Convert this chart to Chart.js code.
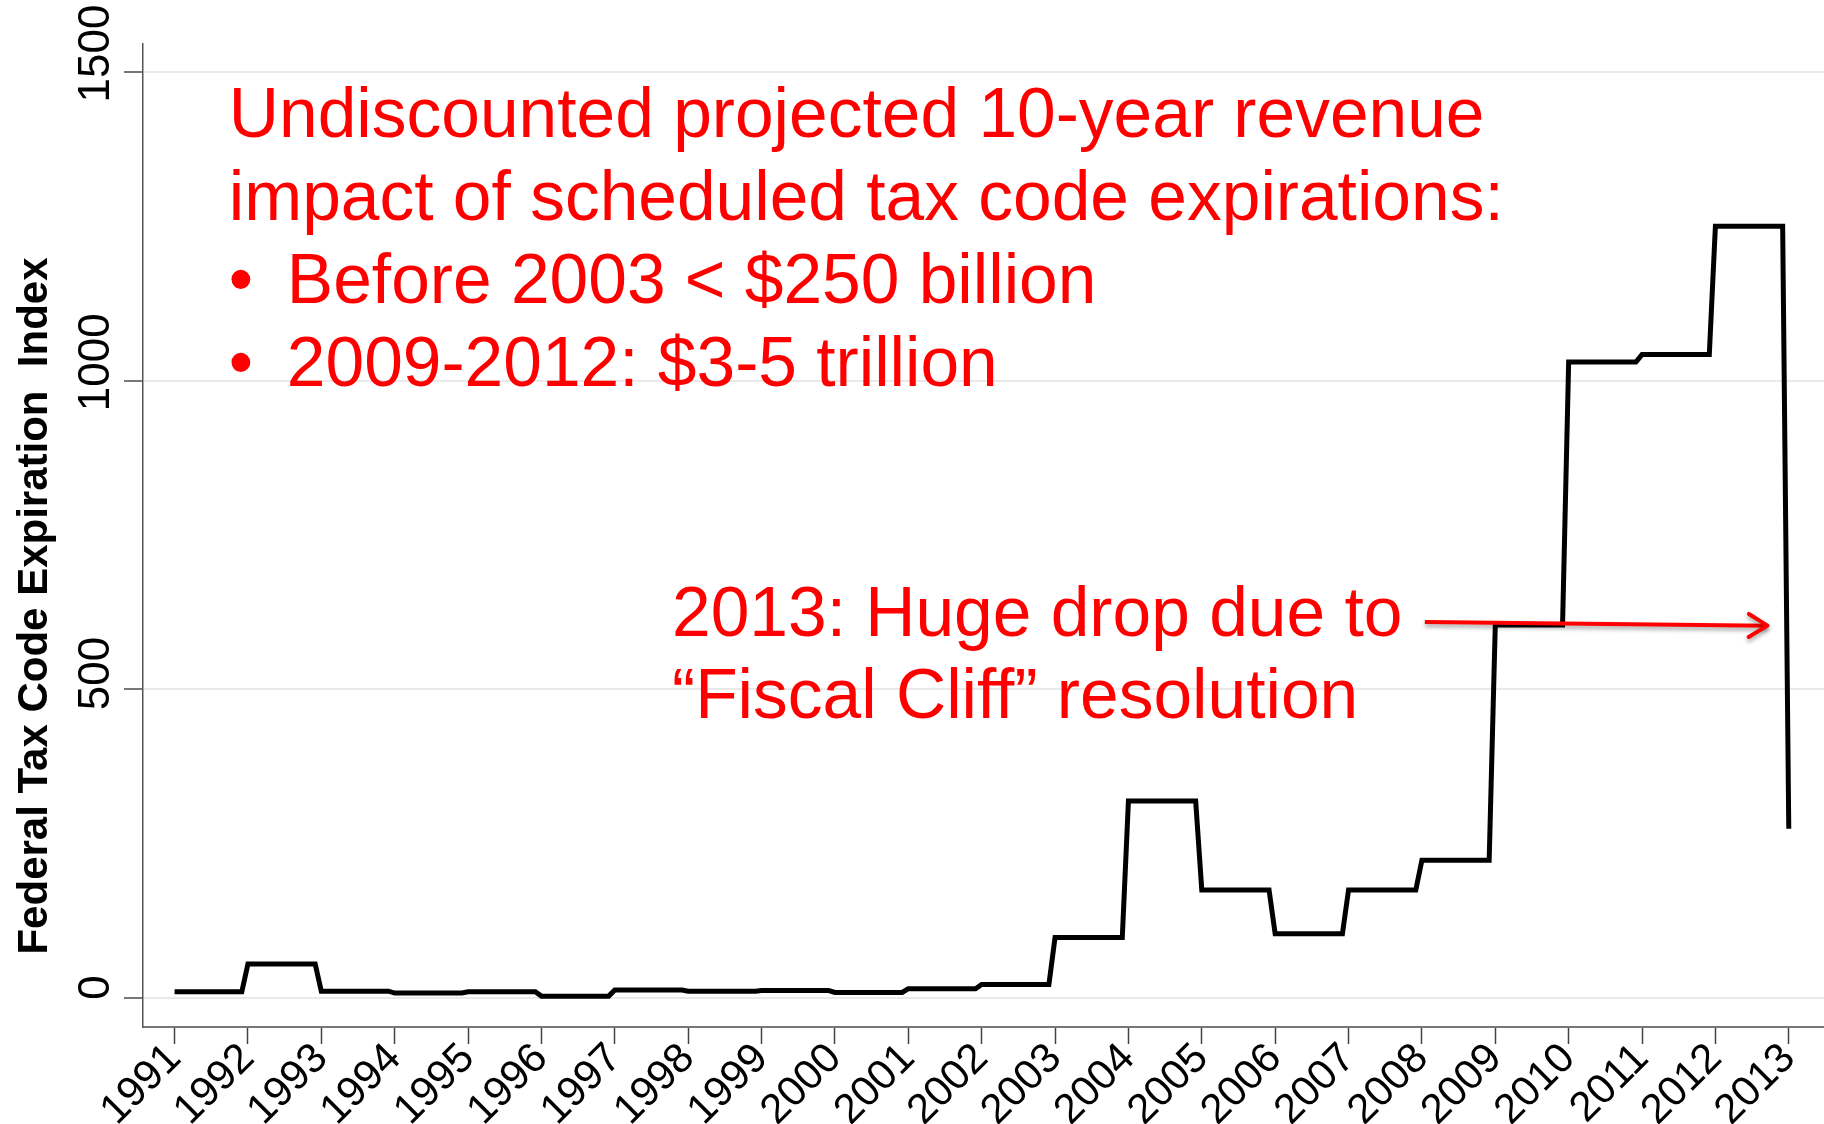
<!DOCTYPE html>
<html>
<head>
<meta charset="utf-8">
<script src="https://cdn.jsdelivr.net/npm/chart.js@4.4.1/dist/chart.umd.min.js"></script>
<style>
  html, body { margin: 0; padding: 0; background: #fff; }
  #wrap { width: 1824px; height: 1124px; }
</style>
</head>
<body>
<div id="wrap"><canvas id="expiry-chart" width="1824" height="1124"></canvas></div>
<script>
// 연도별 지수 값
const years = [1991, 1992, 1993, 1994, 1995, 1996, 1997, 1998, 1999, 2000, 2001, 2002,
  2003, 2004, 2005, 2006, 2007, 2008, 2009, 2010, 2011, 2012, 2013];
const indexValues = [10, 55, 11, 8, 10, 3, 13, 11, 12, 9, 15, 22,
  98, 319, 175, 104, 175, 223, 604, 1030, 1042, 1250, 274];
const yTicks = [0, 500, 1000, 1500];

// 주석 문구
const yTitle = "Federal Tax Code Expiration  Index";
const noteHead = ["Undiscounted projected 10-year revenue", "impact of scheduled tax code expirations:"];
const noteBullets = ["Before 2003 < $250 billion", "2009-2012: $3-5 trillion"];
const dropNote = ["2013: Huge drop due to", "\u201CFiscal Cliff\u201D resolution"];

// 계단형 선: 각 해의 값을 12월까지 유지
const linePoints = [];
years.forEach((yr, i) => {
  linePoints.push({ x: yr, y: indexValues[i] });
  if (i < years.length - 1) {
    linePoints.push({ x: yr + 11 / 12, y: indexValues[i] });
  }
});

const RED = "#ff0000";
const FONT = "'Liberation Sans', Arial, sans-serif";

// 축 라벨, 제목, 주석 그리기
const notesPlugin = {
  id: "notes",
  afterDraw(chart) {
    const { ctx, scales } = chart;
    const xs = scales.x;
    const ys = scales.y;

    ctx.save();
    // y축 눈금 라벨 (세로 회전, 원본처럼 약간 위로)
    ctx.fillStyle = "#000";
    ctx.font = "44px " + FONT;
    ctx.textAlign = "center";
    ctx.textBaseline = "middle";
    yTicks.forEach((v) => {
      const label = String(v);
      const w = ctx.measureText(label).width;
      const py = ys.getPixelForValue(v) - (8 + 0.105 * w);
      ctx.save();
      ctx.translate(97, py);
      ctx.rotate(-Math.PI / 2);
      ctx.fillText(label, 0, 0);
      ctx.restore();
    });

    // y축 제목
    ctx.save();
    ctx.font = "bold 42px " + FONT;
    ctx.translate(35, 606);
    ctx.rotate(-Math.PI / 2);
    ctx.fillText(yTitle, 0, 0);
    ctx.restore();

    // 상단 주석
    ctx.fillStyle = RED;
    ctx.font = "69.5px " + FONT;
    ctx.textAlign = "left";
    ctx.textBaseline = "alphabetic";
    const lx = xs.getPixelForValue(1991.74);
    let by = ys.getPixelForValue(1395);
    const lh = 83;
    noteHead.forEach((t) => {
      ctx.fillText(t, lx, by);
      by += lh;
    });
    noteBullets.forEach((t) => {
      ctx.fillText("\u2022", lx, by);
      ctx.fillText(t, lx + 58, by);
      by += lh;
    });

    // 2013 주석
    const dx = xs.getPixelForValue(1997.78);
    let dy = ys.getPixelForValue(586);
    dropNote.forEach((t) => {
      ctx.fillText(t, dx, dy);
      dy += 82;
    });

    // 화살표
    const x1 = xs.getPixelForValue(2008.04);
    const y1 = ys.getPixelForValue(609);
    const x2 = xs.getPixelForValue(2012.71);
    const y2 = ys.getPixelForValue(603);
    ctx.shadowColor = "rgba(0,0,0,0.35)";
    ctx.shadowBlur = 4;
    ctx.shadowOffsetY = 3;
    ctx.strokeStyle = RED;
    ctx.lineWidth = 4;
    ctx.lineCap = "butt";
    ctx.beginPath();
    ctx.moveTo(x1, y1);
    ctx.lineTo(x2, y2);
    ctx.stroke();
    const ang = Math.atan2(y2 - y1, x2 - x1);
    ctx.lineCap = "round";
    ctx.lineJoin = "round";
    ctx.beginPath();
    ctx.moveTo(x2 - 22 * Math.cos(ang - 0.55), y2 - 22 * Math.sin(ang - 0.55));
    ctx.lineTo(x2, y2);
    ctx.lineTo(x2 - 22 * Math.cos(ang + 0.55), y2 - 22 * Math.sin(ang + 0.55));
    ctx.stroke();
    ctx.restore();
  },
};

new Chart(document.getElementById("expiry-chart"), {
  type: "line",
  data: {
    datasets: [
      {
        label: "Federal Tax Code Expiration Index",
        data: linePoints,
        borderColor: "#000",
        borderWidth: 5,
        borderJoinStyle: "miter",
        pointRadius: 0,
        tension: 0,
        fill: false,
      },
    ],
  },
  options: {
    responsive: false,
    animation: false,
    devicePixelRatio: 1,
    layout: { padding: { top: 44, right: 0, left: 0, bottom: 0 } },
    plugins: {
      legend: { display: false },
      tooltip: { enabled: false },
    },
    scales: {
      x: {
        type: "linear",
        min: 1990.57,
        max: 2013.48,
        afterBuildTicks: (scale) => {
          scale.ticks = years.map((v) => ({ value: v }));
        },
        afterFit: (scale) => {
          scale.height = 97;
        },
        border: { color: "#777", width: 2 },
        grid: {
          drawOnChartArea: false,
          drawTicks: true,
          tickLength: 17,
          tickColor: "#444",
          tickWidth: 1.5,
        },
        ticks: {
          minRotation: 45,
          maxRotation: 45,
          padding: -10,
          color: "#000",
          font: { family: FONT, size: 42 },
          callback: (v) => String(v),
        },
      },
      y: {
        type: "linear",
        min: -47,
        max: 1545,
        afterBuildTicks: (scale) => {
          scale.ticks = yTicks.map((v) => ({ value: v }));
        },
        afterFit: (scale) => {
          scale.width = 143;
        },
        border: { color: "#555", width: 1.5 },
        grid: {
          color: "#e9e9e9",
          lineWidth: 2,
          drawTicks: true,
          tickLength: 19,
          tickColor: "#777",
          tickWidth: 2,
        },
        ticks: { display: false },
      },
    },
  },
  plugins: [notesPlugin],
});
</script>
</body>
</html>
